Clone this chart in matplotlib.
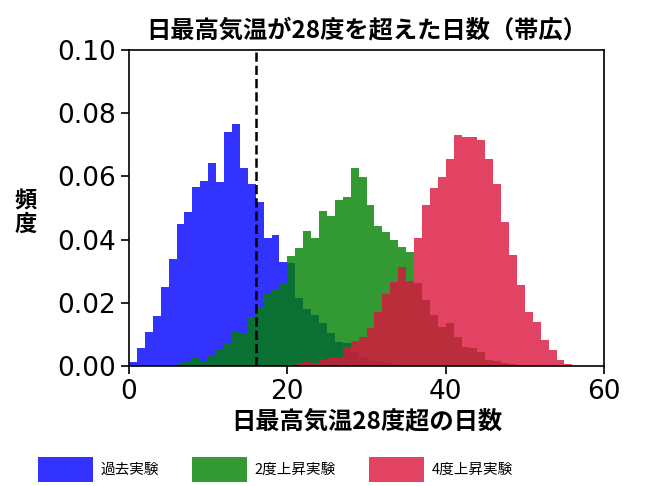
import numpy as np
import matplotlib
matplotlib.use("Agg")
import matplotlib.pyplot as plt
from matplotlib.patches import Patch

plt.rcParams['font.family'] = ['DejaVu Sans', 'Noto Sans CJK JP']
CJK = ['Noto Sans CJK JP', 'DejaVu Sans']

# histogram bin left edges (width 1 day), 0..59
bin_edges = np.arange(0, 61)

past = [0.0012, 0.0057, 0.0109, 0.0159, 0.0251, 0.034, 0.045, 0.0487, 0.0567, 0.0584,
        0.0643, 0.0582, 0.0741, 0.0766, 0.0627, 0.0575, 0.0518, 0.0406, 0.0416, 0.033,
        0.0325, 0.0214, 0.018, 0.016, 0.0135, 0.0105, 0.0077, 0.0072, 0.0045, 0.003,
        0.002, 0.0015, 0.001, 0.0006, 0.0003, 0.0002] + [0.0] * 24

plus2 = [0.0, 0.0, 0.0001, 0.0003, 0.0004, 0.0003, 0.0005, 0.0017, 0.0024, 0.0014,
         0.0032, 0.0053, 0.0072, 0.0109, 0.0105, 0.0156, 0.0182, 0.0232, 0.0244, 0.0262,
         0.0348, 0.0374, 0.0428, 0.0404, 0.049, 0.0476, 0.0525, 0.0536, 0.0628, 0.0597,
         0.0508, 0.0442, 0.0424, 0.04, 0.0376, 0.0362, 0.0262, 0.0209, 0.0161, 0.0124,
         0.0135, 0.0093, 0.0061, 0.0056, 0.0043, 0.0019, 0.0015, 0.001, 0.0007, 0.0004,
         0.0002] + [0.0] * 9

plus4 = [0.0] * 19 + [0.0002, 0.0003, 0.0008, 0.0014, 0.001, 0.0018, 0.0024, 0.003, 0.006,
        0.008, 0.0093, 0.0121, 0.0172, 0.0228, 0.0266, 0.0312, 0.0268, 0.0404, 0.0511,
        0.0564, 0.0599, 0.0654, 0.0731, 0.0724, 0.0726, 0.0715, 0.0655, 0.0576, 0.0457,
        0.0351, 0.0256, 0.017, 0.014, 0.0082, 0.0051, 0.0019, 0.0005, 0.0, 0.0, 0.0, 0.0]

series_names = ['過去実験', '2度上昇実験', '4度上昇実験']
series_colors = ['blue', 'green', 'crimson']
threshold = 16

title = '日最高気温が28度を超えた日数（帯広）'
xlabel = '日最高気温28度超の日数'
ylabel = '頻\n度'

fig = plt.figure(figsize=(6.56, 4.86), dpi=100)
ax = fig.add_axes([129/656, 1-366/486, (604-129)/656, (366-50)/486])

for vals, col in zip([past, plus2, plus4], series_colors):
    ax.bar(bin_edges[:-1], vals, width=1.0, align='edge', color=col, alpha=0.8, linewidth=0)

ax.axvline(threshold, color='black', linestyle='--', linewidth=1.8)

ax.set_xlim(0, 60)
ax.set_ylim(0, 0.10)
ax.set_xticks([0, 20, 40, 60])
ax.set_yticks(np.arange(0, 0.101, 0.02))
ax.yaxis.set_major_formatter(matplotlib.ticker.FormatStrFormatter('%.2f'))
ax.tick_params(labelsize=19, width=1.2, length=6)
for s in ax.spines.values():
    s.set_linewidth(1.2)

ax.set_title(title, family=CJK, fontsize=17.5, fontweight='bold', pad=9)
ax.set_xlabel(xlabel, family=CJK, fontsize=17.5, fontweight='bold', labelpad=3)
fig.text(26/656, 1-213/486, ylabel, family=CJK, fontsize=16, fontweight='bold',
         ha='center', va='center', linespacing=1.0)

handles = [Patch(facecolor=c, alpha=0.8, edgecolor='none') for c in series_colors]
fig.legend(handles, series_names, loc='upper left', bbox_to_anchor=(38/656, 1-457/486),
           ncol=3, frameon=False, prop={'family': CJK, 'size': 10.5},
           handlelength=3.8, handleheight=2.3, handletextpad=0.5, columnspacing=2.25,
           borderpad=0, borderaxespad=0)

fig.savefig('out.png', dpi=100)
